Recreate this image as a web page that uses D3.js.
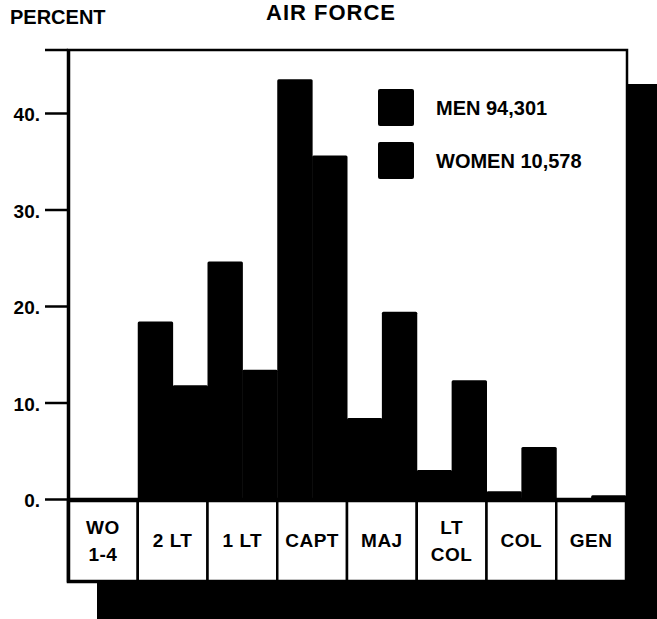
<!DOCTYPE html>
<html>
<head>
<meta charset="utf-8">
<script src="https://cdn.jsdelivr.net/npm/d3@7"></script>
<style>
  html, body { margin: 0; padding: 0; background: #fff; }
  svg { display: block; }
  text { font-family: "Liberation Sans", Arial, sans-serif; font-weight: bold; fill: #000; }
</style>
</head>
<body>
<svg id="chart"></svg>
<script>
// grades along the bottom, each label split in lines
var grades = ["WO 1-4", "2 LT", "1 LT", "CAPT", "MAJ", "LT COL", "COL", "GEN"];
var gradeLines = [["WO", "1-4"], ["2 LT"], ["1 LT"], ["CAPT"], ["MAJ"], ["LT", "COL"], ["COL"], ["GEN"]];

// percent of each group in each grade (left bar, right bar of a pair)
var womenPct = [0, 18.4, 24.6, 43.5, 8.4, 3.0, 0.8, 0.05];
var menPct = [0, 11.8, 13.4, 35.6, 19.4, 12.3, 5.4, 0.4];

var yTicks = [0, 10, 20, 30, 40];
var legendItems = ["MEN 94,301", "WOMEN 10,578"];

var W = 657, H = 619;
var frame = { left: 68, right: 627, top: 50, bottom: 582 };
var zeroY = 499, boxTop = 501;

var svg = d3.select("#chart").attr("width", W).attr("height", H);

// drop shadow behind the whole box
svg.append("rect")
  .attr("x", frame.left + 29).attr("y", frame.top + 34)
  .attr("width", W).attr("height", H)
  .attr("fill", "#000");

svg.append("rect")
  .attr("x", frame.left).attr("y", frame.top)
  .attr("width", frame.right - frame.left).attr("height", frame.bottom - frame.top)
  .attr("fill", "#fff").attr("stroke", "#000").attr("stroke-width", 2.5);

var x = d3.scaleBand().domain(grades).range([frame.left, frame.right - 1]).padding(0);
var sub = d3.scaleBand().domain(["women", "men"]).range([0, x.bandwidth()]).padding(0);

var y = d3.scaleLinear().domain([0, 40]).range([zeroY, 113]);

// title + axis caption
svg.append("text").attr("x", 331).attr("y", 20)
  .attr("text-anchor", "middle").style("font-size", "22px").style("letter-spacing", "1px")
  .text("AIR FORCE");
svg.append("text").attr("x", 10).attr("y", 24)
  .style("font-size", "20px")
  .text("PERCENT");

// bars
var rows = grades.map(function(g, i) {
  return [{ g: g, k: "women", v: womenPct[i] }, { g: g, k: "men", v: menPct[i] }];
}).flat();

svg.append("g").selectAll("rect")
  .data(rows.filter(function(d) { return d.v > 0; }))
  .join("rect")
  .attr("x", function(d) { return x(d.g) + sub(d.k); })
  .attr("width", sub.bandwidth() + 0.5)
  .attr("y", function(d) { return y(d.v); })
  .attr("height", function(d) { return zeroY - y(d.v); })
  .attr("rx", 1.5)
  .attr("fill", "#000");

// y axis
var yAxis = svg.append("g")
  .attr("transform", "translate(" + (frame.left + 1) + ",0)")
  .call(d3.axisLeft(y).tickValues(yTicks).tickSize(24).tickPadding(5)
    .tickFormat(function(d) { return d + "."; }));
yAxis.select(".domain").remove();
yAxis.selectAll(".tick line").attr("stroke", "#000").attr("stroke-width", 2.5);
yAxis.selectAll(".tick text").attr("font-size", null)
  .style("font-size", "19px").style("font-family", "'Liberation Sans', Arial, sans-serif")
  .attr("dy", "0.4em");

// top line sticks out to the left like a tick
svg.append("line")
  .attr("x1", 45).attr("x2", frame.left).attr("y1", frame.top).attr("y2", frame.top)
  .attr("stroke", "#000").attr("stroke-width", 2.5);

// zero line
svg.append("line")
  .attr("x1", frame.left).attr("x2", frame.right).attr("y1", zeroY).attr("y2", zeroY)
  .attr("stroke", "#000").attr("stroke-width", 2.5);

// grade boxes
var cells = svg.append("g").selectAll("g")
  .data(grades)
  .join("g")
  .attr("transform", function(d) { return "translate(" + x(d) + "," + boxTop + ")"; });

cells.append("rect")
  .attr("width", x.bandwidth()).attr("height", frame.bottom - 1 - boxTop)
  .attr("fill", "#fff").attr("stroke", "#000").attr("stroke-width", 2.5);

cells.each(function(d, i) {
  var lines = gradeLines[i];
  var mid = (frame.bottom - 1 - boxTop) / 2;
  d3.select(this).selectAll("text")
    .data(lines)
    .join("text")
    .attr("x", x.bandwidth() / 2)
    .attr("y", function(t, j) { return mid + 6 + (j - (lines.length - 1) / 2) * 27; })
    .attr("text-anchor", "middle")
    .style("font-size", "19px")
    .style("letter-spacing", "0.5px")
    .text(function(t) { return t; });
});

// left axis line through the boxes
svg.append("line")
  .attr("x1", frame.left + 1).attr("x2", frame.left + 1)
  .attr("y1", frame.top).attr("y2", frame.bottom)
  .attr("stroke", "#000").attr("stroke-width", 2.5);

// legend
var legend = svg.append("g").selectAll("g")
  .data(legendItems)
  .join("g")
  .attr("transform", function(d, i) { return "translate(378," + (89 + i * 53) + ")"; });

legend.append("rect")
  .attr("width", 36).attr("height", 37).attr("rx", 2)
  .attr("fill", "#000");
legend.append("text")
  .attr("x", 58).attr("y", 26)
  .style("font-size", "20px")
  .text(function(d) { return d; });
</script>
</body>
</html>
